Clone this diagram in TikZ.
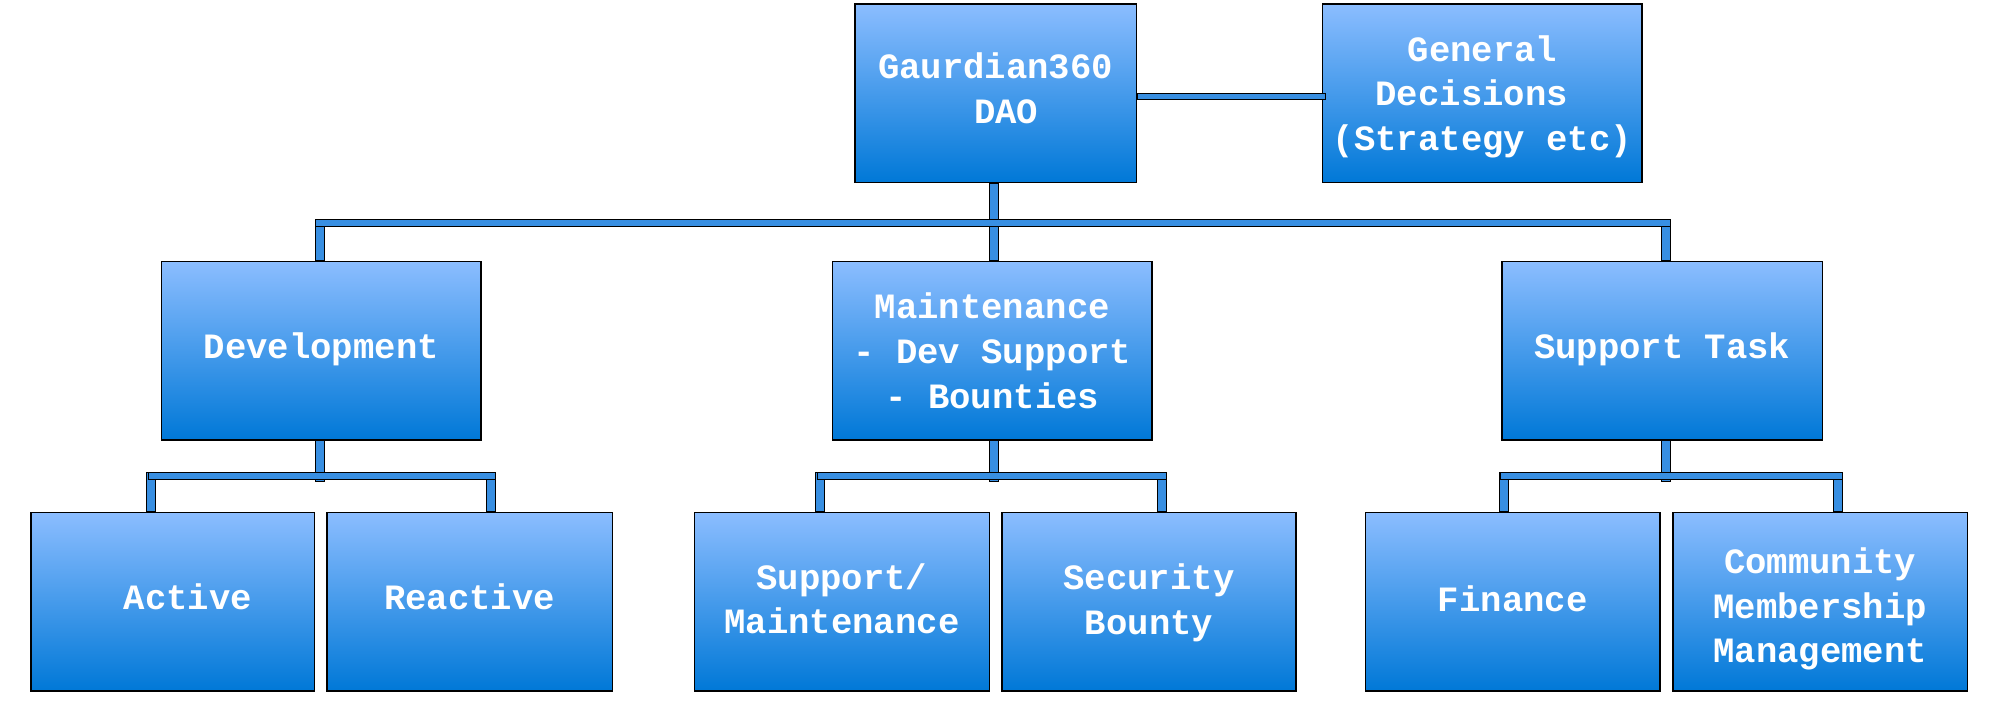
\documentclass[tikz,border=0pt]{standalone}
\usepackage{fontspec}
\usetikzlibrary{calc}
\newfontfamily\boxfontfam{Liberation Mono}
\definecolor{boxtop}{RGB}{139,189,255}
\definecolor{boxbot}{RGB}{0,120,215}
\definecolor{barblue}{RGB}{56,143,226}
% struts: first line height = 10pt + #1, last line depth = 10pt
\newcommand\topst[1]{\rule{0pt}{\dimexpr 10pt+#1pt\relax}}
\newcommand\botst{\rule[-10pt]{0pt}{10pt}}
\tikzset{
  box/.style={draw=black, line width=1.5pt, top color=boxtop, bottom color=boxbot,
    text=white, font=\boxfontfam\bfseries\fontsize{35.6}{44.6}\selectfont,
    align=center, inner sep=0pt, minimum height=178.5pt},
  bar/.style={draw=black, line width=0.9pt, fill=barblue},
}
\begin{document}
\begin{tikzpicture}[x=1pt,y=-1pt]
\useasboundingbox (0,0) rectangle (2000,717);
% junction coordinates
\coordinate (j1) at (319.6,223);
\coordinate (j2) at (993.6,223);
\coordinate (j3) at (1665.5,223);
\coordinate (k1) at (319.6,476);
\coordinate (k2) at (993.6,476);
\coordinate (k3) at (1665.5,476);
\coordinate (d1) at (151.3,476);
\coordinate (d2) at (491,476);
\coordinate (d3) at (820,476);
\coordinate (d4) at (1162,476);
\coordinate (d5) at (1503.6,476);
\coordinate (d6) at (1837.5,476);
% nodes
\node[box, minimum width=281.5pt] (dao) at (995.5,93.3) {\topst{13.4}Gaurdian360\\\hphantom{x}DAO\botst};
\node[box, minimum width=319.5pt] (gen) at (1482.4,93.3) {\topst{25}General\\Decisions\hphantom{x}\\(Strategy etc)\botst};
\node[box, minimum width=319.8pt] (dev) at (321.3,350.7) {\topst{13.2}Development\botst};
\node[box, minimum width=319.8pt] (mnt) at (992.3,350.7) {\topst{25.6}Maintenance\\- Dev Support\\- Bounties\botst};
\node[box, minimum width=320.5pt] (sup) at (1662.2,350.7) {\topst{14}Support Task\botst};
\node[box, minimum width=283.3pt] (act) at (172.8,601.7) {\topst{13.2}\hspace*{30pt}Active\botst};
\node[box, minimum width=285.5pt] (rea) at (469.5,601.7) {\topst{13.2}Reactive\botst};
\node[box, minimum width=295.2pt] (sm) at (841.9,601.7) {\topst{19.2}Support/\\Maintenance\botst};
\node[box, minimum width=294pt] (sec) at (1149,601.7) {\topst{20}Security\\Bounty\botst};
\node[box, minimum width=294.5pt] (fin) at (1512.7,601.7) {\topst{20}Finance\botst};
\node[box, minimum width=294.8pt] (com) at (1820.2,601.7) {\topst{33}Community\\Membership\\Management\botst};
% connectors: top level
\draw[bar] ($(dao.east)+(0,0.3)$) rectangle ($(gen.west)+(4,6.5)$);
\draw[bar] ($(j2 |- dao.south)+(-4.5,0)$) rectangle ($(j2)+(4.5,0)$);
\draw[bar] ($(j1)+(-4.5,-3.2)$) rectangle ($(j1 |- dev.north)+(4.5,0)$);
\draw[bar] ($(j2)+(-4.5,-3.2)$) rectangle ($(j2 |- mnt.north)+(4.5,0)$);
\draw[bar] ($(j3)+(-4.5,-3.2)$) rectangle ($(j3 |- sup.north)+(4.5,0)$);
\draw[bar] ($(j1)+(-4.5,-3.2)$) rectangle ($(j3)+(4.5,3.2)$);
% second level: stems
\draw[bar] ($(j1 |- dev.south)+(-4.5,0)$) rectangle ($(k1)+(4.5,5)$);
\draw[bar] ($(k2 |- mnt.south)+(-4.5,0)$) rectangle ($(k2)+(4.5,5)$);
\draw[bar] ($(k3 |- sup.south)+(-4.5,0)$) rectangle ($(k3)+(4.5,5)$);
% drops to children
\draw[bar] ($(d1)+(-4.5,-3.2)$) rectangle ($(d1 |- act.north)+(4.5,0)$);
\draw[bar] ($(d2)+(-4.5,-3.2)$) rectangle ($(d2 |- rea.north)+(4.5,0)$);
\draw[bar] ($(d3)+(-4.5,-3.2)$) rectangle ($(d3 |- sm.north)+(4.5,0)$);
\draw[bar] ($(d4)+(-4.5,-3.2)$) rectangle ($(d4 |- sec.north)+(4.5,0)$);
\draw[bar] ($(d5)+(-4.5,-3.2)$) rectangle ($(d5 |- fin.north)+(4.5,0)$);
\draw[bar] ($(d6)+(-4.5,-3.2)$) rectangle ($(d6 |- com.north)+(4.5,0)$);
% sub-buses
\draw[bar] ($(d1)+(-3,-3.2)$) rectangle ($(d2)+(4.5,3.2)$);
\draw[bar] ($(d3)+(-3,-3.2)$) rectangle ($(d4)+(4.5,3.2)$);
\draw[bar] ($(d5)+(-3,-3.2)$) rectangle ($(d6)+(4.5,3.2)$);
\end{tikzpicture}
\end{document}
